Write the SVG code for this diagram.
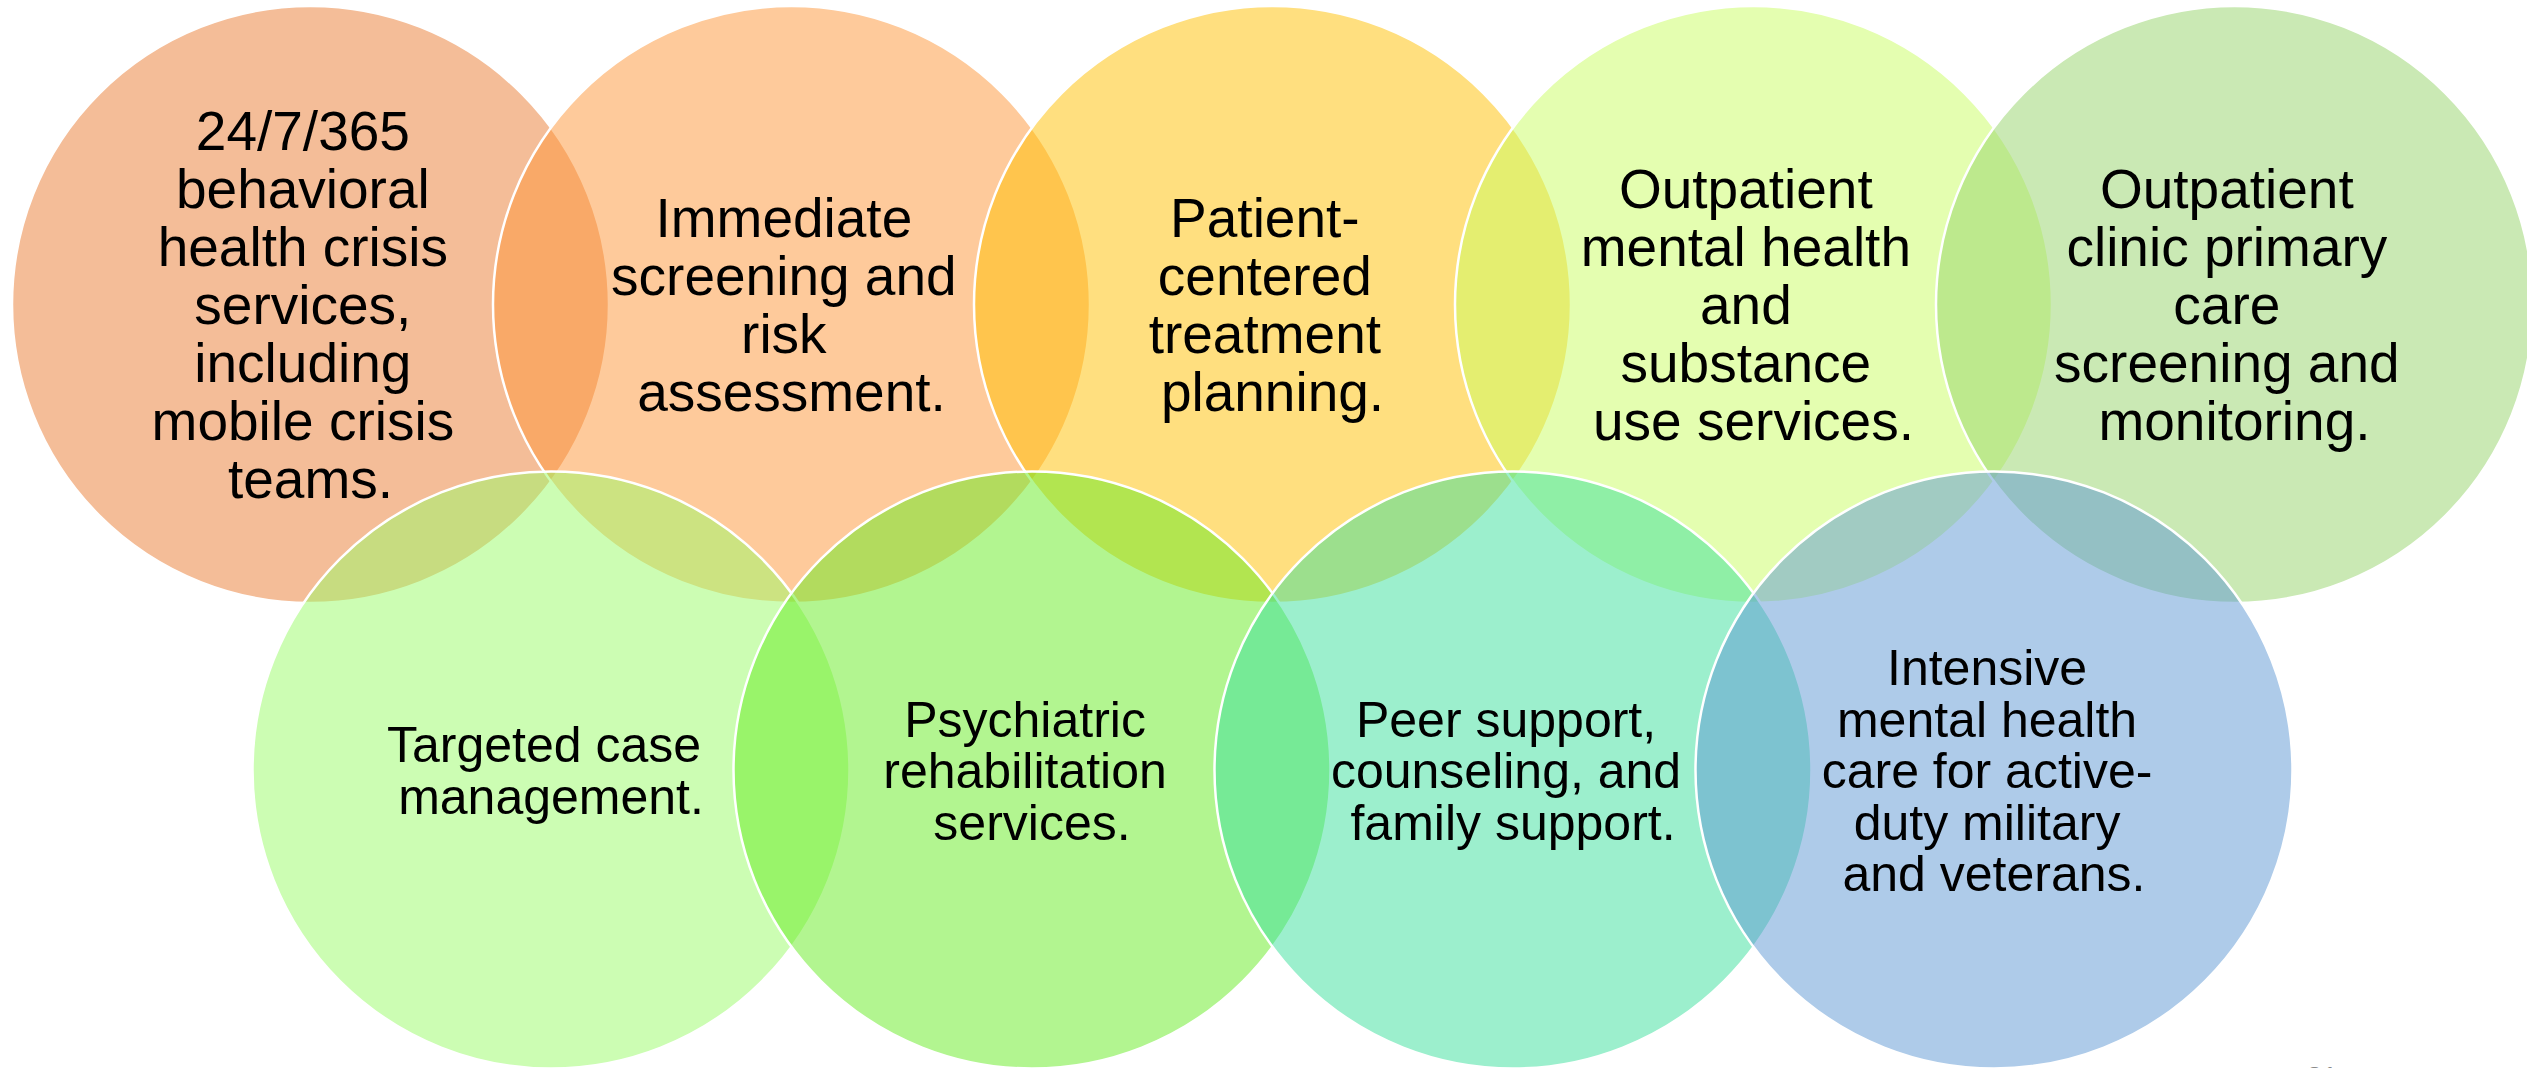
<svg xmlns="http://www.w3.org/2000/svg" width="2527" height="1068" viewBox="0 0 2527 1068">
<style>
  .c { fill-opacity: 0.5; stroke: #ffffff; stroke-width: 2.5; }
  .t { font-family: "Liberation Sans", Arial, sans-serif; fill: #000000; text-anchor: middle; }
  .tt { font-size: 55px; }
  .tb { font-size: 50px; }
  .pg { font-family: "Liberation Sans", Arial, sans-serif; font-size: 28px; fill: #8a8a8a; text-anchor: middle; }
</style>
<rect width="2527" height="1068" fill="#ffffff"/>
<g id="node1">
  <circle class="c" cx="310.5" cy="304.5" r="298.5" fill="#E97B31"/>
  <text class="t tt">
    <tspan x="310.5" y="150">24/7/365</tspan>
    <tspan x="310.5" y="208">behavioral</tspan>
    <tspan x="310.5" y="266">health crisis</tspan>
    <tspan x="310.5" y="324">services,</tspan>
    <tspan x="310.5" y="382">including</tspan>
    <tspan x="310.5" y="440">mobile crisis</tspan>
    <tspan x="310.5" y="498">teams.</tspan>
  </text>
</g>
<g id="node2">
  <circle class="c" cx="791.5" cy="304.5" r="298.5" fill="#FD9537"/>
  <text class="t tt">
    <tspan x="791.5" y="237">Immediate</tspan>
    <tspan x="791.5" y="295">screening and</tspan>
    <tspan x="791.5" y="353">risk</tspan>
    <tspan x="791.5" y="411">assessment.</tspan>
  </text>
</g>
<g id="node3">
  <circle class="c" cx="1272.5" cy="304.5" r="298.5" fill="#FFC000"/>
  <text class="t tt">
    <tspan x="1272.5" y="237">Patient-</tspan>
    <tspan x="1272.5" y="295">centered</tspan>
    <tspan x="1272.5" y="353">treatment</tspan>
    <tspan x="1272.5" y="411">planning.</tspan>
  </text>
</g>
<g id="node4">
  <circle class="c" cx="1753.5" cy="304.5" r="298.5" fill="#C9FD61"/>
  <text class="t tt">
    <tspan x="1753.5" y="208">Outpatient</tspan>
    <tspan x="1753.5" y="266">mental health</tspan>
    <tspan x="1753.5" y="324">and</tspan>
    <tspan x="1753.5" y="382">substance</tspan>
    <tspan x="1753.5" y="440">use services.</tspan>
  </text>
</g>
<g id="node5">
  <circle class="c" cx="2234.5" cy="304.5" r="298.5" fill="#95D369"/>
  <text class="t tt">
    <tspan x="2234.5" y="208">Outpatient</tspan>
    <tspan x="2234.5" y="266">clinic primary</tspan>
    <tspan x="2234.5" y="324">care</tspan>
    <tspan x="2234.5" y="382">screening and</tspan>
    <tspan x="2234.5" y="440">monitoring.</tspan>
  </text>
</g>
<g id="node6">
  <circle class="c" cx="551" cy="770" r="298.5" fill="#99FB67"/>
  <text class="t tb">
    <tspan x="551" y="762">Targeted case</tspan>
    <tspan x="551" y="813.5">management.</tspan>
  </text>
</g>
<g id="node7">
  <circle class="c" cx="1032" cy="770" r="298.5" fill="#65EB21"/>
  <text class="t tb">
    <tspan x="1032" y="736.5">Psychiatric</tspan>
    <tspan x="1032" y="788">rehabilitation</tspan>
    <tspan x="1032" y="839.5">services.</tspan>
  </text>
</g>
<g id="node8">
  <circle class="c" cx="1513" cy="770" r="298.5" fill="#39DF9B"/>
  <text class="t tb">
    <tspan x="1513" y="736.5">Peer support,</tspan>
    <tspan x="1513" y="788">counseling, and</tspan>
    <tspan x="1513" y="839.5">family support.</tspan>
  </text>
</g>
<g id="node9">
  <circle class="c" cx="1994" cy="770" r="298.5" fill="#5D97D3"/>
  <text class="t tb">
    <tspan x="1994" y="685">Intensive</tspan>
    <tspan x="1994" y="736.5">mental health</tspan>
    <tspan x="1994" y="788">care for active-</tspan>
    <tspan x="1994" y="839.5">duty military</tspan>
    <tspan x="1994" y="891">and veterans.</tspan>
  </text>
</g>
<g id="connectors"></g>
<text class="pg" x="2322" y="1086">21</text>
</svg>
